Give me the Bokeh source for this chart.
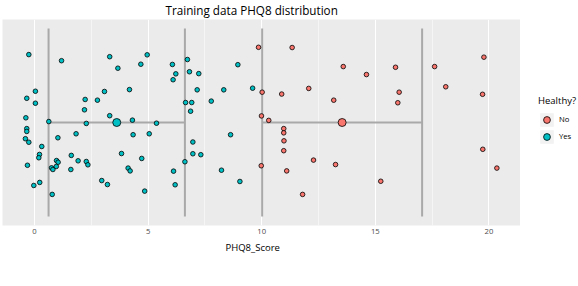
from bokeh.plotting import figure
from bokeh.layouts import row
from bokeh.models import (ColumnDataSource, FixedTicker, Legend, LegendItem,
                          Range1d, Title)
from bokeh.embed import file_html
from bokeh.resources import INLINE

# ---------------- data ----------------
title_text = "Training data PHQ8 distribution"
x_title = "PHQ8_Score"
legend_title = "Healthy?"
groups = ["No", "Yes"]
group_colors = ["#F8766D", "#00BFC4"]

x_ticks = [0, 5, 10, 15, 20]
x_tick_labels = ["0", "5", "10", "15", "20"]
x_minor = [2.5, 7.5, 12.5, 17.5]

yes_score = [-0.25, 1.19, 3.31, 4.96, 4.68, 3.67, 6.07, 6.73, 6.22, 6.10,
             6.82, 7.23, 8.95, 0.04, -0.34, 0.04, 3.08, 4.18, 2.23, 2.77,
             7.16, 8.33, 9.60, 2.20, 6.65, 6.92, 7.78, 6.87, -0.38, 3.31,
             0.63, 2.28, 4.31, 5.37, -0.34, -0.34, -0.40, -0.25, 0.32, 1.03,
             1.83, 4.34, 5.05, 6.97, 8.63, 0.22, 0.19, 3.83, -0.31, 0.97,
             1.04, 1.62, 1.92, 2.28, 2.35, 0.75, 0.81, 0.96, 1.60, 4.12,
             4.21, 4.72, 6.97, 7.32, 6.62, 6.12, 8.23, 9.04, 2.96, 3.21,
             -0.03, 0.23, 0.78, 4.85, 6.19]
yes_jitter = [0.289, 0.263, 0.280, 0.288, 0.248, 0.231, 0.247, 0.268, 0.207, 0.182,
              0.216, 0.208, 0.246, 0.133, 0.103, 0.082, 0.132, 0.140, 0.098, 0.095,
              0.139, 0.139, 0.146, 0.054, 0.085, 0.085, 0.091, 0.048, 0.020, 0.029,
              0.004, -0.004, 0.010, -0.003, -0.026, -0.038, -0.069, -0.084, -0.102, -0.065,
              -0.048, -0.052, -0.048, -0.083, -0.052, -0.136, -0.150, -0.132, -0.182, -0.162,
              -0.169, -0.140, -0.163, -0.166, -0.180, -0.193, -0.200, -0.187, -0.200, -0.194,
              -0.206, -0.153, -0.133, -0.137, -0.167, -0.207, -0.203, -0.251, -0.247, -0.264,
              -0.268, -0.255, -0.306, -0.292, -0.265]

no_score = [9.86, 11.34, 13.59, 14.61, 15.89, 17.61, 19.78, 10.02, 10.88, 12.07,
            13.17, 16.05, 15.99, 18.10, 19.72, 9.99, 10.31, 10.97, 10.97, 10.98,
            10.97, 19.73, 9.98, 11.10, 12.28, 13.25, 15.24, 11.80, 20.35]
no_jitter = [0.320, 0.319, 0.238, 0.204, 0.235, 0.238, 0.278, 0.129, 0.121, 0.145,
             0.095, 0.129, 0.084, 0.152, 0.120, 0.028, 0.009, -0.026, -0.044, -0.078,
             -0.120, -0.114, -0.184, -0.206, -0.160, -0.179, -0.250, -0.306, -0.194]

# summary per group (order of `groups`): mean and sd of PHQ8 score
group_mean = [13.54, 3.62]
group_sd = [3.52, 3.00]
band_half = 0.4  # half height of the mean +/- sd bars (jitter units)

# ---------------- main figure ----------------
p = figure(width=520, height=286,
           min_border_left=2, min_border_right=0,
           min_border_top=19, min_border_bottom=61,
           x_range=Range1d(-1.408, 21.39), y_range=Range1d(-0.4383, 0.4383),
           y_axis_location=None, output_backend="svg", toolbar_location=None)
p.background_fill_color = "#EBEBEB"
p.border_fill_color = "white"
p.outline_line_color = None

p.title.text = title_text
p.title.align = "left"
p.title.offset = 163
p.title.vertical_align = "top"
p.title.standoff = 0
p.title.text_font = "Open Sans"
p.title.text_font_size = "11.7px"
p.title.text_font_style = "normal"
p.title.text_color = "black"

ax = p.xaxis[0]
ax.ticker = FixedTicker(ticks=x_ticks, minor_ticks=x_minor)
ax.major_label_overrides = {t: l for t, l in zip(x_ticks, x_tick_labels)}
ax.axis_line_color = None
ax.major_tick_line_color = None
ax.minor_tick_line_color = None
ax.major_tick_out = 0
ax.minor_tick_out = 0
ax.major_label_text_font = "Open Sans"
ax.major_label_text_font_size = "7.7px"
ax.major_label_text_color = "#4D4D4D"
ax.major_label_standoff = 3

p.add_layout(Title(text=x_title, align="left", offset=223, standoff=4,
                   text_font="Open Sans", text_font_size="9.5px",
                   text_font_style="normal", text_color="black"), "below")

p.xgrid.grid_line_color = "white"
p.xgrid.grid_line_width = 1.1
p.xgrid.minor_grid_line_color = "white"
p.xgrid.minor_grid_line_width = 0.5
p.ygrid.grid_line_color = None

# mean +/- sd bars
sx0, sy0, sx1, sy1 = [], [], [], []
for m, s in zip(group_mean, group_sd):
    lo, hi = m - s, m + s
    sx0 += [lo, hi, lo]
    sx1 += [lo, hi, hi]
    sy0 += [-band_half, -band_half, 0]
    sy1 += [band_half, band_half, 0]
p.segment(x0=sx0, y0=sy0, x1=sx1, y1=sy1, line_color="#A9A9A9", line_width=2)

src_no = ColumnDataSource(dict(x=no_score, y=no_jitter))
src_yes = ColumnDataSource(dict(x=yes_score, y=yes_jitter))
sources = [src_no, src_yes]
for src, c in zip(sources, group_colors):
    p.scatter("x", "y", source=src, size=4.6, fill_color=c,
              line_color="black", line_width=0.8)

p.scatter(x=group_mean, y=[0, 0], size=8, fill_color=group_colors,
          line_color="black", line_width=0.8)

# ---------------- legend strip ----------------
# the strip's own ranges lie left of every score, so its key renderers
# draw nothing in the strip itself: only their legend glyphs show.
lg = figure(width=58, height=286, min_border=0,
            x_range=Range1d(-3, -2), y_range=Range1d(0, 1),
            x_axis_location=None, y_axis_location=None,
            output_backend="svg", toolbar_location=None)
lg.grid.visible = False
lg.outline_line_color = None
lg.background_fill_color = "white"
lg.border_fill_color = "white"

box_r = lg.quad(left="x", right="x", top="y", bottom="y", source=src_no,
                fill_color="#F2F2F2", line_color=None)
key_r = [lg.scatter("x", "y", source=src, size=4.6, fill_color=c,
                    line_color="black", line_width=0.8)
         for src, c in zip(sources, group_colors)]
legend = Legend(items=[LegendItem(label=g, renderers=[box_r, r])
                       for g, r in zip(groups, key_r)],
                title=legend_title, location=(18, 80.5),
                padding=0, margin=0, spacing=0,
                glyph_width=17, glyph_height=17, label_standoff=4,
                border_line_color=None, background_fill_alpha=0,
                title_text_font="Open Sans", title_text_font_size="9.5px",
                title_text_font_style="normal", title_standoff=4,
                title_text_color="black",
                label_text_font="Open Sans", label_text_font_size="7.7px",
                label_text_color="black")
lg.add_layout(legend)

layout = row(p, lg, spacing=0)
open("out.html", "w").write(file_html(layout, INLINE))
